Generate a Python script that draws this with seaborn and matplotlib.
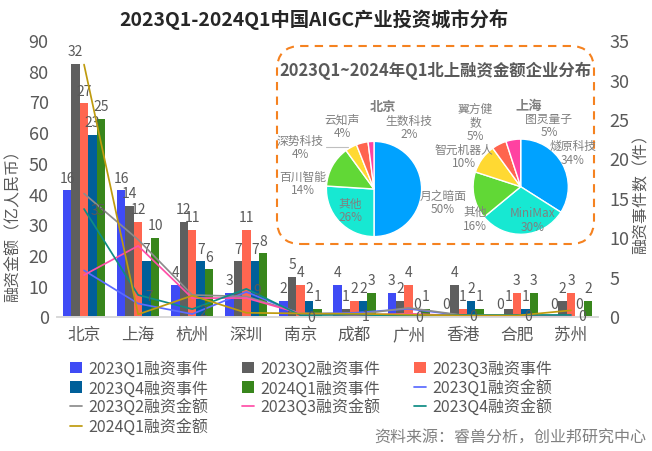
import pandas as pd
import matplotlib.pyplot as plt
import seaborn as sns
from matplotlib.patches import FancyBboxPatch
from matplotlib.transforms import IdentityTransform

# --- data ---
cities = ['北京', '上海', '杭州', '深圳', '南京', '成都', '广州', '香港', '合肥', '苏州']
event_names = ['2023Q1融资事件', '2023Q2融资事件', '2023Q3融资事件', '2023Q4融资事件', '2024Q1融资事件']
amount_names = ['2023Q1融资金额', '2023Q2融资金额', '2023Q3融资金额', '2023Q4融资金额', '2024Q1融资金额']

events_q1 = [16, 16, 4, 3, 2, 4, 3, 0, 0, 0]
events_q2 = [32, 14, 12, 7, 5, 1, 2, 4, 1, 2]
events_q3 = [27, 12, 11, 11, 4, 2, 4, 1, 3, 3]
events_q4 = [23, 7, 7, 7, 2, 2, 0, 2, 1, 0]
events_q5 = [25, 10, 6, 8, 1, 3, 1, 1, 3, 2]

amount_q1 = [15, 4.2, 0.8, 8, 0.8, 1.2, 2.5, 0.3, 0.1, 0.1]
amount_q2 = [40, 25, 7, 6.5, 1, 0.6, 2.8, 0.4, 0.1, 0.1]
amount_q3 = [13.5, 23, 6, 6, 1, 0.4, 0.9, 0.2, 0.1, 0.1]
amount_q4 = [35, 7, 2.4, 9, 0.4, 0.6, 0.2, 0.5, 0.5, 0.5]
amount_q5 = [82, 0.7, 6.8, 1.2, 1, 0.9, 0.6, 0.3, 0.3, 2]
amount_q4_labels = ['35', '7', '2', '9', '0', '1', '0', '0', '0', '0']

bj_names = ['月之暗面', '其他', '百川智能', '深势科技', '云知声', '生数科技']
bj_share = [50, 26, 14, 4, 4, 2]
sh_names = ['燧原科技', 'MiniMax', '其他', '智元机器人', '翼方健\n数', '图灵量子']
sh_share = [34, 30, 16, 10, 5, 5]

bar_colors = ['#3F4BF5', '#5F5F5F', '#FF6650', '#005F99', '#38861C']
line_colors = ['#5B6BFF', '#8C8C8C', '#FF4FA8', '#0F8C84', '#BF9B0F']
pie_colors = ['#00A2FF', '#17E8D2', '#61D836', '#FFD932', '#FF644E', '#FF42A1']

events = pd.DataFrame(dict(zip(event_names, [events_q1, events_q2, events_q3, events_q4, events_q5])), index=cities)
amounts = pd.DataFrame(dict(zip(amount_names, [amount_q1, amount_q2, amount_q3, amount_q4, amount_q5])), index=cities)
events_long = events.rename_axis('city').reset_index().melt('city', var_name='series', value_name='value')
amounts_long = amounts.rename_axis('city').reset_index().melt('city', var_name='series', value_name='value')

sns.set_theme(style='white')
plt.rcParams['font.family'] = ['Noto Sans CJK SC', 'DejaVu Sans']
plt.rcParams['axes.unicode_minus'] = False

W, H = 652, 452
GREY = '#595959'
fig = plt.figure(figsize=(W / 100, H / 100), dpi=100)


def fx(x):
    return x / W


def fy(y):
    return 1 - y / H


# --- main chart: bars on the right axis, lines on the left one ---
ax_bar = fig.add_axes([fx(57), fy(317.5), fx(541), (317.5 - 41) / H])
sns.barplot(data=events_long, x='city', y='value', hue='series', palette=bar_colors,
            width=0.78, gap=0, saturation=1, linewidth=0, ax=ax_bar)
ax_line = ax_bar.twinx()
sns.lineplot(data=amounts_long, x='city', y='value', hue='series', palette=line_colors,
             linewidth=1.25, sort=False, ax=ax_line)

bar_handles, bar_labels = ax_bar.get_legend_handles_labels()
line_handles, line_labels = ax_line.get_legend_handles_labels()
ax_bar.get_legend().remove()
ax_line.get_legend().remove()

ax_bar.set_xlim(-0.5, 9.5)
ax_bar.set_ylim(0, 35)
ax_line.set_ylim(0, 90)
ax_bar.set_yticks(range(0, 36, 5))
ax_line.set_yticks(range(0, 91, 10))
ax_bar.yaxis.tick_right()
ax_line.yaxis.tick_left()
ax_bar.set_xlabel('')
ax_bar.set_ylabel('')
ax_line.set_xlabel('')
ax_line.set_ylabel('')
ax_bar.tick_params(axis='y', length=0, labelsize=13, colors=GREY, pad=8)
ax_line.tick_params(axis='y', length=0, labelsize=13, colors=GREY, pad=6)
ax_bar.tick_params(axis='x', length=0, labelsize=12, colors=GREY, pad=7)
for a in (ax_bar, ax_line):
    for side in ('top', 'left', 'right'):
        a.spines[side].set_visible(False)
    a.spines['bottom'].set_color('#D9D9D9')

for container in ax_bar.containers[:5]:
    ax_bar.bar_label(container, fontsize=10, color=GREY, padding=4)
for i, label in enumerate(amount_q4_labels):
    ax_line.annotate(label, (i, amount_q4[i]), xytext=(5, -1), textcoords='offset points',
                     ha='left', va='center', fontsize=10, color=GREY)

fig.text(fx(314), fy(20), '2023Q1-2024Q1中国AIGC产业投资城市分布', ha='center', va='center',
         fontsize=13.9, fontweight='bold', color='#262626')
fig.text(fx(13), fy(222), '融资金额（亿人民币）', rotation=90, ha='center', va='center',
         fontsize=11.5, color=GREY)
fig.text(fx(641), fy(190), '融资事件数（件）', rotation=90, ha='center', va='center',
         fontsize=11.5, color=GREY)

# legend fills by column, so order the handles to read across the rows
handles = bar_handles + line_handles
labels = bar_labels + line_labels
order = [0, 3, 6, 9, 1, 4, 7, 2, 5, 8]
fig.legend([handles[i] for i in order], [labels[i] for i in order], ncols=3,
           loc='upper left', bbox_to_anchor=(fx(70), fy(361)), frameon=False, fontsize=11.5,
           labelcolor=GREY, handlelength=0.75, handleheight=0.75, handletextpad=0.4,
           labelspacing=0.15, columnspacing=2.1, borderpad=0, borderaxespad=0)
fig.text(fx(646), fy(438), '资料来源：睿兽分析，创业邦研究中心', ha='right', va='center',
         fontsize=11.5, color='#808080')

# --- inset box with the two pies ---
box = FancyBboxPatch((277 + 18, H - 245 + 18), 317 - 36, 198 - 36, boxstyle='round,pad=18,rounding_size=24',
                     transform=IdentityTransform(), facecolor='white', edgecolor='#F58220',
                     linewidth=1.5, linestyle=(0, (4, 3)), zorder=5)
fig.add_artist(box)

pie_r = 47.6
for cx, cy, share in [(374, 190, bj_share), (520.7, 187.7, sh_share)]:
    size = pie_r * 2.5
    ax_pie = fig.add_axes([fx(cx - size / 2), fy(cy + size / 2), fx(size), size / H], zorder=6)
    ax_pie.pie(share, colors=pie_colors, startangle=90, counterclock=False,
               wedgeprops={'edgecolor': 'white', 'linewidth': 1})
    ax_pie.patch.set_alpha(0)

label_pos = [(443, 203), (350, 211), (303, 184), (300, 148), (342, 127), (409, 128),
             (573, 153), (533, 221), (475, 219), (464, 157), (475, 123), (549, 126)]
pie_texts = [f'{n}\n{s}%' for n, s in zip(bj_names + sh_names, bj_share + sh_share)]
for (x, y), text in zip(label_pos, pie_texts):
    fig.text(fx(x), fy(y), text, ha='center', va='center', fontsize=8.5, color='#808080',
             linespacing=1.1, zorder=7)
fig.add_artist(plt.Line2D([fx(326), fx(348)], [fy(148), fy(148)], color='#BFBFBF', linewidth=0.8, zorder=7))

fig.text(fx(435), fy(71), '2023Q1~2024年Q1北上融资金额企业分布', ha='center', va='center',
         fontsize=11.8, fontweight='bold', color=GREY, zorder=7)
fig.text(fx(383), fy(107), '北京', ha='center', va='center', fontsize=9.5, fontweight='bold', color='#7F7F7F', zorder=7)
fig.text(fx(529), fy(106), '上海', ha='center', va='center', fontsize=9.5, fontweight='bold', color='#7F7F7F', zorder=7)

plt.savefig('out.png', dpi=100)
